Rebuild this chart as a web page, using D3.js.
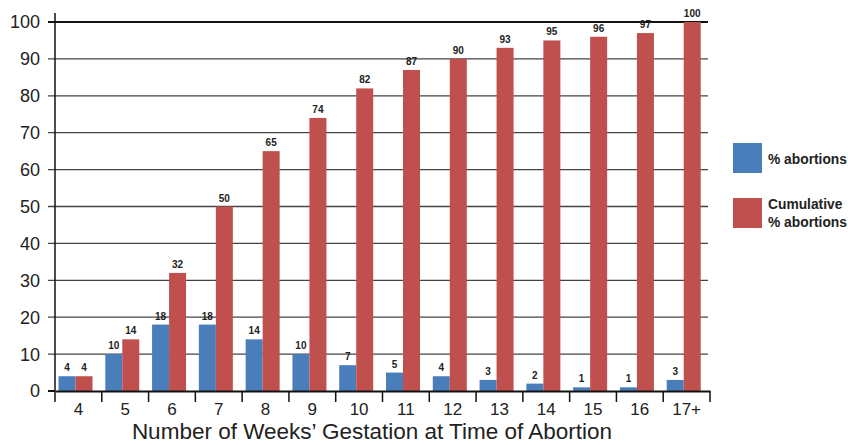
<!DOCTYPE html>
<html>
<head>
<meta charset="utf-8">
<script src="https://cdn.jsdelivr.net/npm/d3@7"></script>
<style>
  body { margin: 0; background: #fff; }
  svg { font-family: "Liberation Sans", Arial, sans-serif; }
</style>
</head>
<body>
<div id="chart"></div>
<script>
// weeks of gestation
const weeks = ["4", "5", "6", "7", "8", "9", "10", "11", "12", "13", "14", "15", "16", "17+"];
const pctAbortions = [4, 10, 18, 18, 14, 10, 7, 5, 4, 3, 2, 1, 1, 3];
const cumulativePct = [4, 14, 32, 50, 65, 74, 82, 87, 90, 93, 95, 96, 97, 100];
const yTicks = [0, 10, 20, 30, 40, 50, 60, 70, 80, 90, 100];
const seriesNames = ["% abortions", "Cumulative\n% abortions"];
const colors = ["#4a7ebb", "#c0504d"];

const width = 848, height = 445;
const plotLeft = 55, plotRight = 710, plotTop = 22, plotBottom = 391;

const svg = d3.select("#chart").append("svg")
  .attr("width", width)
  .attr("height", height);

const x = d3.scaleBand().domain(weeks).range([plotLeft, plotRight]).padding(0);
const y = d3.scaleLinear().domain([0, 100]).range([plotBottom, plotTop]);
const barW = 17;
const offset = 3.5;

// gridlines
svg.append("g")
  .selectAll("line")
  .data(yTicks.filter(d => d > 0))
  .enter()
  .append("line")
  .attr("x1", plotLeft - 7)
  .attr("x2", plotRight - 2)
  .attr("y1", d => y(d))
  .attr("y2", d => y(d))
  .attr("stroke", d => d === 100 ? "#111" : "#444")
  .attr("stroke-width", d => d === 100 ? 2 : 1.3);

// y labels
svg.append("g")
  .selectAll("text")
  .data(yTicks)
  .enter()
  .append("text")
  .attr("x", 40)
  .attr("y", d => y(d))
  .attr("dy", "0.36em")
  .attr("text-anchor", "end")
  .style("font-size", "18px")
  .style("fill", "#222")
  .text(d => d);

// bars
const series = [pctAbortions, cumulativePct];
series.forEach((vals, s) => {
  svg.append("g")
    .selectAll("rect")
    .data(vals)
    .enter()
    .append("rect")
    .attr("x", (d, i) => x(weeks[i]) + offset + s * barW)
    .attr("y", d => y(d))
    .attr("width", barW)
    .attr("height", d => plotBottom - y(d))
    .attr("fill", colors[s]);

  svg.append("g")
    .selectAll("text")
    .data(vals)
    .enter()
    .append("text")
    .attr("x", (d, i) => x(weeks[i]) + offset + s * barW + barW / 2)
    .attr("y", d => y(d) - 5)
    .attr("text-anchor", "middle")
    .style("font-size", "10px")
    .style("font-weight", "bold")
    .style("fill", "#222")
    .text(d => d);
});

// y axis line
svg.append("line")
  .attr("x1", plotLeft).attr("x2", plotLeft)
  .attr("y1", 13).attr("y2", plotBottom)
  .attr("stroke", "#111").attr("stroke-width", 1.5);

// y tick mark at 0
svg.append("line")
  .attr("x1", plotLeft - 7).attr("x2", plotLeft)
  .attr("y1", plotBottom).attr("y2", plotBottom)
  .attr("stroke", "#111").attr("stroke-width", 2);

// x axis
const xAxis = svg.append("g")
  .attr("transform", "translate(0," + plotBottom + ")")
  .call(d3.axisBottom(x).tickSize(0).tickPadding(12));
xAxis.select(".domain").attr("stroke", "#111").attr("stroke-width", 2.2);
xAxis.selectAll("text")
  .style("font-size", "17px")
  .style("fill", "#222")
  .style("font-family", "Liberation Sans, Arial, sans-serif");

// separators between categories
const seps = weeks.map(w => x(w)).concat([plotRight]);
svg.append("g")
  .selectAll("line")
  .data(seps)
  .enter()
  .append("line")
  .attr("x1", d => d)
  .attr("x2", d => d)
  .attr("y1", plotBottom)
  .attr("y2", plotBottom + 11)
  .attr("stroke", "#111")
  .attr("stroke-width", 1.5);

// x title
svg.append("text")
  .attr("x", 372)
  .attr("y", 439)
  .attr("text-anchor", "middle")
  .style("font-size", "22.5px")
  .style("fill", "#222")
  .text("Number of Weeks\u2019 Gestation at Time of Abortion");

// legend
const legend = svg.append("g").attr("transform", "translate(733,143)");
seriesNames.forEach((name, i) => {
  const g = legend.append("g").attr("transform", "translate(0," + i * 55 + ")");
  g.append("rect")
    .attr("width", 29)
    .attr("height", 30)
    .attr("fill", colors[i]);
  const lines = name.split("\n");
  lines.forEach((ln, j) => {
    g.append("text")
      .attr("x", 35)
      .attr("y", (lines.length === 1 ? 16 : 6 + j * 18))
      .attr("dy", "0.36em")
      .style("font-size", "13.8px")
      .style("font-weight", "bold")
      .style("fill", "#222")
      .text(ln);
  });
});
</script>
</body>
</html>
